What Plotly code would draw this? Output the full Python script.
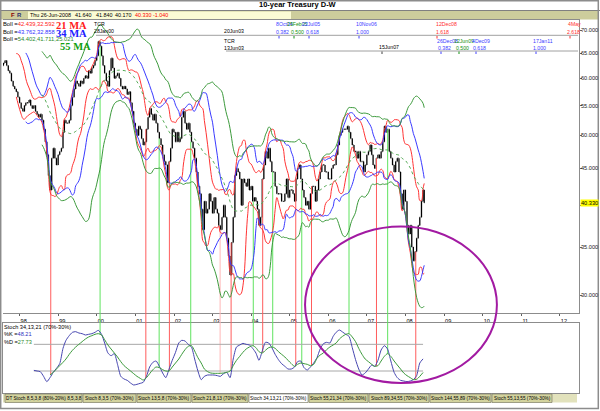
import numpy as np
import pandas as pd
import plotly.graph_objects as go

W, H = 600, 411


def px(x):
    return x / W


def py(y):
    return 1 - y / H


# ---------------- data (semi-monthly closes, 10-year yield x10) ----------------
close_1997 = [62.5, 63.0, 63.5, 62.5, 61.5, 61.0, 59.5, 58.5, 58.0, 57.5, 56.5, 55.5]
close_1998 = [54.5, 54.0, 55.0, 55.5, 55.5, 56.0, 55.0, 54.5, 55.0, 54.0, 53.5, 53.0,
              53.5, 52.5, 51.0, 49.0, 47.0, 44.0, 42.0, 46.5, 48.0, 46.5, 45.5, 47.0]
close_1999 = [47.5, 48.0, 50.5, 52.5, 52.0, 52.0, 52.5, 55.0, 56.5, 58.0, 59.5, 59.0,
              58.5, 59.5, 59.0, 60.0, 60.5, 60.0, 61.5, 61.0, 62.0, 62.5, 63.5, 64.5]
close_2000 = [67.5, 66.5, 64.5, 62.5, 61.0, 59.5, 58.5, 61.5, 64.0, 62.0, 60.0, 60.5,
              61.0, 60.0, 58.5, 58.0, 58.5, 58.0, 57.0, 57.5, 55.5, 54.0, 52.0, 51.0]
close_2001 = [50.0, 51.5, 51.0, 49.5, 48.5, 49.0, 51.0, 53.0, 54.5, 53.5, 52.5, 53.5,
              52.0, 50.5, 49.5, 48.5, 47.0, 46.0, 45.5, 43.0, 46.0, 48.0, 51.0, 50.5]
close_2002 = [49.0, 50.5, 49.0, 49.5, 53.0, 54.0, 52.0, 51.0, 52.0, 50.5, 49.0, 48.0,
              46.5, 44.5, 42.5, 41.5, 39.5, 37.0, 40.5, 39.0, 39.5, 41.5, 40.5, 39.0]
close_2003 = [41.0, 39.5, 39.0, 37.5, 37.0, 38.5, 40.0, 38.5, 36.0, 34.0, 32.0, 35.5,
              38.5, 44.0, 45.0, 44.5, 43.5, 40.0, 43.5, 43.0, 42.5, 43.5, 42.0, 42.5]
close_2004 = [40.5, 41.0, 40.5, 39.5, 37.5, 38.5, 43.5, 45.5, 47.5, 46.5, 48.0, 46.0,
              44.5, 44.5, 42.5, 41.5, 41.5, 41.5, 40.5, 40.5, 41.5, 43.5, 41.0, 42.0]
close_2005 = [42.0, 41.5, 40.5, 43.5, 45.0, 45.5, 43.5, 42.0, 41.0, 40.0, 40.5, 39.5,
              41.5, 42.5, 42.5, 40.5, 42.0, 43.5, 44.5, 45.5, 45.5, 44.5, 44.5, 43.5]
close_2006 = [43.5, 45.0, 45.5, 45.5, 47.0, 48.5, 50.0, 50.5, 51.0, 51.0, 51.0, 51.5,
              50.5, 49.5, 48.5, 47.5, 47.5, 46.5, 47.5, 46.0, 46.0, 44.5, 45.5, 47.0]
close_2007 = [47.5, 48.5, 47.0, 45.5, 45.0, 46.5, 47.0, 46.5, 47.5, 49.0, 51.5, 50.5,
              51.0, 47.5, 46.5, 45.5, 44.5, 46.0, 46.5, 44.5, 41.5, 39.5, 42.0, 40.5]
close_2008 = [37.5, 36.5, 37.5, 35.0, 33.5, 34.5, 36.0, 37.5, 38.5, 40.5, 42.0, 40.33]

# Stoch 34,13,21 (monthly, mid-month, May 1998 .. Jun 2008)
stoch_k_1998_2001 = [31, 30, 29, 22, 14, 20, 28, 34, 41, 64, 76, 83, 88, 89, 87, 86, 84, 85, 86, 88,
                     91, 85, 72, 57, 53, 56, 40, 22, 18, 16, 12, 9, 10, 11.5, 13, 22, 36, 43, 45, 37]
stoch_k_2001_2005 = [27, 20, 33, 46, 58, 72, 76, 75, 70, 66, 48, 30, 17, 22, 24, 24, 24, 23, 22, 26,
                     28, 20, 48, 66, 69, 71.5, 70, 69, 64, 57, 46, 60, 73, 72, 65, 55, 47, 41, 37, 33]
stoch_k_2005_2008 = [33, 36, 44, 45, 35, 31.5, 36, 42, 50, 63, 71, 73, 72, 82, 88, 91.5, 88.5, 85, 82, 65,
                     47, 33, 24, 27, 33, 39, 37, 46, 61.5, 68, 63, 45, 28, 20, 16, 15, 14, 15, 17, 23,
                     42, 48.21]
# %D starts Oct 1998
stoch_d_1998_2002 = [24, 28, 33, 38, 43, 48, 55, 61, 66, 70, 74, 78, 81, 83, 85, 86, 84, 77, 69, 63,
                     57, 51, 44, 38, 34, 30, 26, 22, 19, 16.5, 20, 26, 32, 36, 35, 32, 30, 30, 36, 42]
stoch_d_2002_2005 = [48, 55, 62, 67, 68, 60, 50, 42, 33, 29, 27, 26.5, 26.5, 26.5, 27, 28, 30, 38, 46, 52,
                     58, 63, 66, 68, 65, 59, 57, 61, 65, 66, 64, 59, 55, 51, 46, 41, 37, 40, 42, 41]
stoch_d_2005_2008 = [40, 38, 40, 49, 54, 57, 62, 66, 69, 72, 78, 82, 85, 86, 81, 74, 64, 55, 48, 44,
                     40, 37, 38, 45, 52, 56, 52, 45, 39, 33, 27, 23, 20, 17, 17.5, 22, 27.73]

# stochastic crossover signals
signal_dates = ["1998-10-22", "2000-02-01", "2001-04-09", "2001-08-13", "2001-11-18",
                "2002-06-08", "2003-03-13", "2003-06-25", "2004-01-21", "2004-04-19",
                "2004-07-23", "2005-02-26", "2005-04-24", "2005-07-25", "2006-07-15",
                "2007-04-01", "2007-07-16", "2008-04-07"]
signal_kinds = ["up", "down", "up", "down", "up", "down", "weak", "up", "down", "up",
                "down", "up", "down", "up", "down", "up", "down", "up"]

price_ticks = [30, 35, 40, 45, 50, 55, 60, 65, 70]
year_ticks = list(range(1998, 2013))

# ---------------- series ----------------
closes = (close_1997 + close_1998 + close_1999 + close_2000 + close_2001 + close_2002 +
          close_2003 + close_2004 + close_2005 + close_2006 + close_2007 + close_2008)
months = pd.period_range("1997-07", "2008-06", freq="M")
dates = []
for m in months:
    dates.append(m.start_time + pd.Timedelta(days=14))
    dates.append(m.end_time.normalize())
dates[-1] = pd.Timestamp("2008-06-26")
s = pd.Series(closes, index=pd.DatetimeIndex(dates), dtype=float)
t0 = s.index[0]

opens = s.shift(1).fillna(s.iloc[0])
highs = np.maximum(opens, s)
lows = np.minimum(opens, s)

stoch_k = stoch_k_1998_2001 + stoch_k_2001_2005 + stoch_k_2005_2008
stoch_d = stoch_d_1998_2002 + stoch_d_2002_2005 + stoch_d_2005_2008
k_dates = pd.date_range("1998-05-01", periods=len(stoch_k), freq="MS") + pd.Timedelta(days=14)
d_dates = k_dates[len(stoch_k) - len(stoch_d):]


def boll(weeks, mult):
    win = f"{weeks * 7}D"
    mid = s.rolling(win).mean()
    sd = s.rolling(win).std(ddof=0)
    ok = s.index >= t0 + pd.Timedelta(days=weeks * 7 - 10)
    return mid.where(ok), (mid + mult * sd).where(ok), (mid - mult * sd).where(ok)


# ---------------- figure ----------------
Y_LO, Y_HI = 28.35, 72.3
fig = go.Figure()

sig_col = {"up": "#ff5c5c", "down": "#5fe35f", "weak": "#ffb8b8"}
sig_ts = pd.DatetimeIndex(signal_dates)
sig_idx = s.index.get_indexer(sig_ts, method="nearest")
sig_dval = np.interp(sig_ts.asi8, d_dates.asi8, np.array(stoch_d, dtype=float))
shapes = []
for kind, col in sig_col.items():
    xs1, ys1, xs2, ys2 = [], [], [], []
    for dt, k, i, dv in zip(sig_ts, signal_kinds, sig_idx, sig_dval):
        if k != kind:
            continue
        xs1 += [dt, dt, None]
        ys1 += [s.iloc[i], Y_LO, None]
        xs2 += [dt, dt, None]
        ys2 += [102, dv, None]
        shapes.append(dict(type="line", xref="x", yref="paper", x0=dt, x1=dt,
                           y0=py(323), y1=py(313), line=dict(color=col, width=1)))
    fig.add_trace(go.Scatter(x=xs1, y=ys1, mode="lines", line=dict(color=col, width=1),
                             xaxis="x", yaxis="y", hoverinfo="skip"))
    fig.add_trace(go.Scatter(x=xs2, y=ys2, mode="lines", line=dict(color=col, width=1),
                             xaxis="x2", yaxis="y2", hoverinfo="skip"))

band_specs = [(21, 2.0, "#ff3434"), (34, 2.0, "#3a3aff"), (55, 2.5, "#3c9a3c")]
for weeks, mult, col in band_specs:
    mid, up, lo = boll(weeks, mult)
    for ser in (up, lo):
        fig.add_trace(go.Scatter(x=s.index, y=ser, mode="lines",
                                 line=dict(color=col, width=1, shape="spline", smoothing=1.0),
                                 xaxis="x", yaxis="y", hoverinfo="skip"))
    if weeks == 55:
        fig.add_trace(go.Scatter(x=s.index, y=mid, mode="lines",
                                 line=dict(color="#55aa55", width=1, dash="dot", shape="spline"),
                                 xaxis="x", yaxis="y", hoverinfo="skip"))

fig.add_trace(go.Ohlc(x=s.index, open=opens, high=highs, low=lows, close=s,
                      increasing=dict(line=dict(color="black", width=1.3)),
                      decreasing=dict(line=dict(color="black", width=1.3)),
                      tickwidth=0.4, xaxis="x", yaxis="y", hoverinfo="skip"))

# stochastic panel
for lvl in (70, 30):
    fig.add_trace(go.Scatter(x=[k_dates[0], k_dates[-1]], y=[lvl, lvl], mode="lines",
                             line=dict(color="#a8a8a8", width=1), xaxis="x2", yaxis="y2",
                             hoverinfo="skip"))
fig.add_trace(go.Scatter(x=k_dates, y=stoch_k, mode="lines",
                         line=dict(color="#4646b0", width=1, shape="spline", smoothing=0.6),
                         xaxis="x2", yaxis="y2", hoverinfo="skip"))
fig.add_trace(go.Scatter(x=d_dates, y=stoch_d, mode="lines",
                         line=dict(color="#3c9a3c", width=1, shape="spline", smoothing=0.8),
                         xaxis="x2", yaxis="y2", hoverinfo="skip"))

# ---------------- decorations ----------------
ann = []
FONT = "Liberation Sans"


def txt(x, y, t, color="black", size=6, anchor="left", family=FONT, **kw):
    d = dict(xref="paper", yref="paper", x=px(x), y=py(y), text=t, showarrow=False,
             xanchor=anchor, yanchor="middle", borderpad=0,
             font=dict(size=size, color=color, family=family))
    d.update(kw)
    ann.append(d)


def pline(x0, y0, x1, y1, color="#808080", width=1):
    shapes.append(dict(type="line", xref="paper", yref="paper", x0=px(x0), y0=py(y0),
                       x1=px(x1), y1=py(y1), line=dict(color=color, width=width)))


def prect(x0, y0, x1, y1, fill, line="rgba(0,0,0,0)", width=0, layer="below"):
    shapes.append(dict(type="rect", xref="paper", yref="paper", x0=px(x0), y0=py(y0),
                       x1=px(x1), y1=py(y1), fillcolor=fill, line=dict(color=line, width=width),
                       layer=layer))


# header
txt(298, 5, "<b>10-year Treasury D-W</b>", size=7.5, anchor="center")
pline(0, 10.5, 600, 10.5)
prect(1, 11, 599, 19.5, "#cdcd9c")
prect(28, 11.5, 291, 19, "#fbfbd4")
txt(10, 15.3, "<b>F</b>", color="#8b0000", size=6)
txt(16, 15.3, "<b>R</b>", color="#303070", size=6)
hs = 5.4
txt(29, 15.3, "Thu 26-Jun-2008", size=hs)
txt(74, 15.3, "41.640", size=hs)
txt(95, 15.3, "41.840", size=hs)
txt(114, 15.3, "40.170", size=hs)
txt(134, 15.3, "40.330", color="#ff0000", size=hs)
txt(152, 15.3, "-1.040", color="#ff0000", size=hs)

# Bollinger legend
txt(2, 24.3, 'Boll =<span style="color:#ff2020">42.439,32.592</span>', size=5.8)
txt(2, 32, 'Boll =<span style="color:#3030ff">43.762,32.858</span>', size=5.8)
txt(2, 39.3, 'Boll =<span style="color:#2a8a2a">54.402,41.711,25.021</span>', size=5.8)
txt(55, 25, "<b>21 MA</b>", color="#ff2020", size=10.5, family="Liberation Serif")
txt(55, 33, "<b>34 MA</b>", color="#2020ff", size=10.5, family="Liberation Serif")
txt(59, 47, "<b>55 MA</b>", color="#10a010", size=10.5, family="Liberation Serif")

# time cycle / fib rows
fs = 5.2
BL, GR, RD = "#4040ff", "#109010", "#ff3030"
txt(93, 24.3, "TCR", size=fs)
txt(93, 31.3, "28Jan00", size=fs)
txt(223, 31, "20Jun03", size=fs)
pline(96, 35.3, 578, 35.3, color="#a0a0a0")
for x, t, c in [(275, "8Oct04", BL), (286, "25Feb05", GR), (301, "22Jul05", BL),
                (355, "10Nov06", BL), (435, "12Dec08", RD), (567, "4May", RD)]:
    txt(x, 24.3, t, color=c, size=fs)
for x, t, c in [(275, "0.382", BL), (290, "0.500", GR), (305, "0.618", BL),
                (355, "1.000", BL), (435, "1.618", RD), (566, "2.618", RD)]:
    txt(x, 31.7, t, color=c, size=fs)
for x, c in [(279, BL), (294, GR), (309, BL), (359, BL), (437, RD), (570, RD)]:
    pline(x, 36, x, 38.5, color=c)

txt(223, 40.5, "TCR", size=fs)
txt(223, 47.5, "13Jun03", size=fs)
pline(226, 51, 578, 51, color="#a0a0a0")
txt(378, 47, "15Jun07", size=fs)
pline(382, 51.5, 382, 54, color="#404040")
for x, t, c in [(436, "26Dec08", BL), (453, "12Jun09", GR), (471, "4Dec09", BL),
                (532, "17Jan11", BL)]:
    txt(x, 40.7, t, color=c, size=fs)
for x, t, c in [(437, "0.382", BL), (455, "0.500", GR), (472, "0.618", BL), (532, "1.000", BL)]:
    txt(x, 47.7, t, color=c, size=fs)
for x, c in [(441, BL), (459, GR), (476, BL), (536, BL)]:
    pline(x, 51.5, x, 54, color=c)

# right price-axis labels (the 40.000 label sits under the last-price marker)
for v in price_ticks:
    if v == 40:
        continue
    ann.append(dict(xref="paper", yref="y", x=px(598.5), y=np.log10(v), text=f"{v:.3f}",
                    showarrow=False, xanchor="right", yanchor="middle", borderpad=0,
                    font=dict(size=5.6, color="#202020", family=FONT)))
ann.append(dict(xref="paper", yref="y", x=px(598.5), y=np.log10(s.iloc[-1]), text="40.330",
                showarrow=False, xanchor="right", yanchor="middle", bgcolor="#ffff00",
                borderpad=0, font=dict(size=5.6, color="black", family=FONT)))

# stochastic legend
txt(3, 327, "Stoch 34,13,21 (70%-30%)", size=5.6)
txt(3, 334, '%K =<span style="color:#3030c0">48.21</span>', size=5.6)
txt(3, 342, '%D =<span style="color:#2a8a2a">27.73</span>', size=5.6)

# tabs
prect(3, 394, 577, 402.5, "#e2e2bc")
tabs = [(5, 82, "DT Stoch 8,5,3,8 (80%-20%) 8,5,3,8"), (83, 136, "Stoch 8,3,5 (70%-30%)"),
        (137, 191, "Stoch 13,5,8 (70%-30%)"), (192, 248, "Stoch 21,8,13 (70%-30%)"),
        (249, 308, "Stoch 34,13,21 (70%-30%)"), (309, 368, "Stoch 55,21,34 (70%-30%)"),
        (369, 429, "Stoch 89,34,55 (70%-30%)"), (430, 491, "Stoch 144,55,89 (70%-30%)"),
        (492, 552, "Stoch 55,13,55 (70%-30%)")]
for x0, x1, t in tabs:
    active = t.startswith("Stoch 34")
    prect(x0, 394, x1, 402.5, "#ffffff" if active else "#d3d39e", line="#707060", width=0.6,
          layer="above")
    txt((x0 + x1) / 2, 398.3, t, size=4.7, anchor="center")

# ellipse
shapes.append(dict(type="circle", xref="x", yref="paper", x0="2005-05-25", x1="2010-05-15",
                   y0=py(383), y1=py(226.5), line=dict(color="#a21aa2", width=2)))

# outer frame
shapes.append(dict(type="rect", xref="paper", yref="paper", x0=px(0.7), x1=px(598.3),
                   y0=py(408.5), y1=py(0.7), line=dict(color="#8c8c8c", width=1.5)))

fig.update_layout(
    width=W, height=H, margin=dict(l=0, r=0, t=0, b=0),
    paper_bgcolor="white", plot_bgcolor="white", showlegend=False,
    annotations=ann, shapes=shapes,
    xaxis=dict(domain=[px(3), px(579)], range=["1997-07-27", "2012-06-30"], anchor="y",
               tickvals=[f"{y}-01-01" for y in year_ticks],
               ticktext=[f"{y % 100:02d}" for y in year_ticks],
               tickfont=dict(size=5.6, family=FONT, color="black"),
               ticks="outside", ticklen=2, tickcolor="#606060", ticklabelshift=4,
               showline=True, linecolor="#8c8c8c", mirror=True, showgrid=False,
               zeroline=False, rangeslider=dict(visible=False), automargin=False),
    yaxis=dict(domain=[py(313), py(20)], type="log", range=[np.log10(Y_LO), np.log10(Y_HI)],
               side="right", anchor="x", tickvals=price_ticks, showticklabels=False,
               ticks="outside", ticklen=2, tickcolor="#606060",
               showline=True, linecolor="#8c8c8c", showgrid=False, zeroline=False,
               automargin=False),
    xaxis2=dict(domain=[px(3), px(579)], matches="x", anchor="y2", showticklabels=False,
                ticks="", showline=True, linecolor="#8c8c8c", mirror=True, showgrid=False,
                zeroline=False, automargin=False),
    yaxis2=dict(domain=[py(393), py(323)], range=[-3, 102], anchor="x2", showticklabels=False,
                ticks="", showline=True, linecolor="#8c8c8c", mirror=True, showgrid=False,
                zeroline=False, automargin=False),
)

fig.write_html("out.html", config={"displayModeBar": False},
               post_script="document.body.style.margin='0';"
                           "document.documentElement.style.overflow='hidden';")
